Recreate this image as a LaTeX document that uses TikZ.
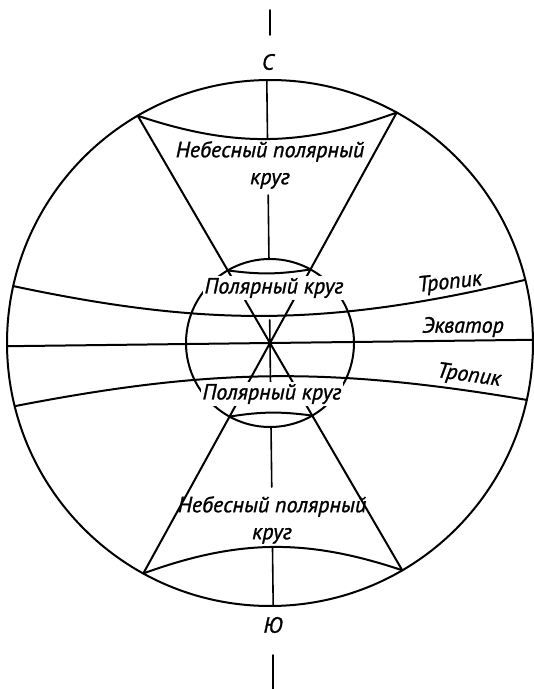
\documentclass[tikz,border=0pt]{standalone}
\usepackage{fontspec}
\setmainfont{PT Sans}[ItalicFeatures={FakeBold=1.2}]
\begin{document}
\begin{tikzpicture}[x=1pt,y=1pt,line join=round,line cap=round,line width=2pt,
	lbl/.style={font=\itshape\fontsize{22}{27}\selectfont,inner sep=0pt,align=center},
	mask/.style={lbl,fill=white,inner sep=2pt},
	axe/.style={line width=1.6pt}]
	\useasboundingbox (-270,-346) rectangle (264,343);
	\begin{scope}[rotate=0.7]
		\coordinate (O) at (0,0);
		\coordinate (NW) at (119.5:263); \coordinate (NE) at (60.5:263); \coordinate (SW) at (240.5:263); \coordinate (SE) at (299.5:263);
		\coordinate (nw) at (119.5:84); \coordinate (ne) at (60.5:84); \coordinate (sw) at (240.5:84); \coordinate (se) at (299.5:84);
		\draw (O) circle (263) (O) circle (84);
		\draw (NW) to[bend right=19.2] (NE) (SW) to[bend left=19.2] (SE);
		\draw (nw) to[bend right=8.3] (ne) (sw) to[bend left=8.3] (se);
		\draw (NW)--(SE) (NE)--(SW);
		\draw (180:263)--(0:263);
		\draw (166.8:263) to[bend right=12.7] (13.2:263) (193.2:263) to[bend left=10.3] (346.8:263);
		\draw[axe] (90:263)--(0,204) (0,148)--(90:84) (0,23)--(0,-40) (270:84)--(0,-144) (0,-204)--(270:263);
	\end{scope}
	\draw[axe] (0,333)--(0,308) (3,-312)--(3,-346);
	\node[lbl] (nebU) at (0,178) {Небесный полярный\\круг};
	\node[lbl] (nebD) at (2,-177) {Небесный полярный\\круг};
	\node[mask] (polU) at (4,55) {Полярный круг};
	\node[mask] (polD) at (2,-51) {Полярный круг};
	\node[lbl,rotate=6] (tropU) at (180,60) {Тропик};
	\node[lbl] (ekv) at (193,16) {Экватор};
	\node[lbl,rotate=-8] (tropD) at (199,-33) {Тропик};
	\node[lbl] (sever) at (-2,281) {С};
	\node[lbl] (yug) at (3,-282) {Ю};
\end{tikzpicture}
\end{document}
